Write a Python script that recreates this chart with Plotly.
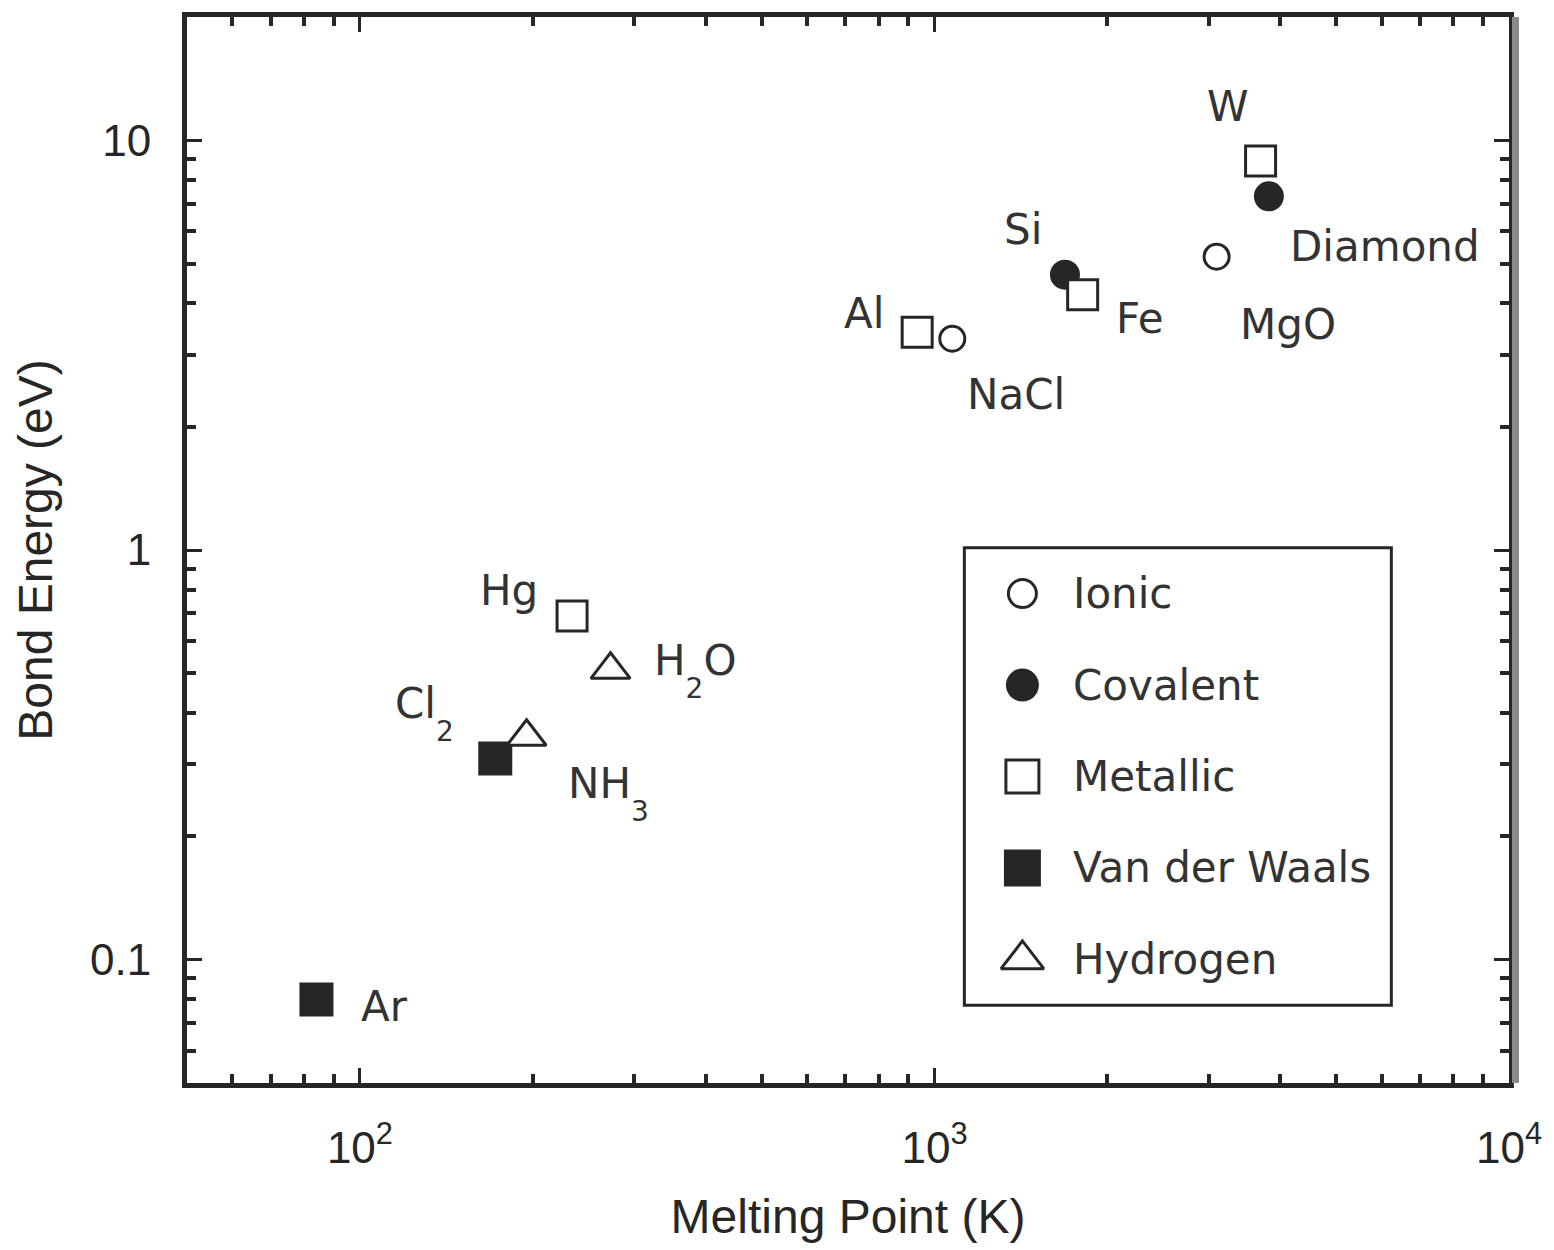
import numpy as np
import plotly.graph_objects as go

# ---- data -------------------------------------------------------------
materials = ["Ar", "Cl2", "NH3", "H2O", "Hg", "Al", "NaCl", "Si", "Fe", "MgO", "W", "Diamond"]
melting_point_K = [84, 172, 195, 273, 234, 933, 1074, 1687, 1811, 3098, 3695, 3820]
bond_energy_eV = [0.08, 0.31, 0.35, 0.51, 0.69, 3.4, 3.28, 4.7, 4.2, 5.2, 8.9, 7.3]
bond_type = ["Van der Waals", "Van der Waals", "Hydrogen", "Hydrogen", "Metallic", "Metallic",
             "Ionic", "Covalent", "Metallic", "Ionic", "Metallic", "Covalent"]

legend_order = ["Ionic", "Covalent", "Metallic", "Van der Waals", "Hydrogen"]

x_tick_values = [100, 1000, 10000]
x_tick_labels = ["10<sup>2</sup>", "10<sup>3</sup>", "10<sup>4</sup>"]
y_tick_values = [0.1, 1, 10]
y_tick_labels = ["0.1", "1", "10"]

# ---- styling ----------------------------------------------------------
INK = "#262626"
TEXT = "#333333"
AXIS_FONT = "Liberation Sans, Arial, sans-serif"
LABEL_FONT = "DejaVu Sans, Verdana, sans-serif"
LABEL_SIZE = 42

# marker look for each bond type: symbol, fill, size
type_style = {
    "Ionic": ("circle", "white", 25),
    "Covalent": ("circle", INK, 27),
    "Metallic": ("square", "white", 30),
    "Van der Waals": ("square", INK, 31),
    "Hydrogen": ("triangle-up", "white", 34),
}


def chem(label):
    """Render digits in a formula as dropped subscripts."""
    out = ""
    for ch in label:
        if ch.isdigit():
            out += ("<span style='font-size:28px;baseline-shift:-23px'>%s</span>" % ch)
        else:
            out += ch
    return out


# where each label sits relative to its point (pixels)
label_place = {
    "Ar": (68, -7, "center"),
    "Cl2": (-39, 45, "right"),
    "NH3": (39, -57, "left"),
    "H2O": (41, -1, "left"),
    "Hg": (-63, 26, "center"),
    "Al": (-53, 19, "center"),
    "NaCl": (64, -56, "center"),
    "Si": (-42, 45, "center"),
    "Fe": (57, -24, "center"),
    "MgO": (71, -68, "center"),
    "W": (-33, 55, "center"),
    "Diamond": (116, -50, "center"),
}

minor_x = [v * d for d in (10, 100, 1000) for v in range(2, 10) if v * d > 50]
minor_y = [round(v * d, 3) for d in (0.01, 0.1, 1) for v in range(2, 10) if v * d > 0.05]

fig = go.Figure()

symbols = [type_style[t][0] for t in bond_type]
fills = [type_style[t][1] for t in bond_type]
sizes = [type_style[t][2] for t in bond_type]

fig.add_trace(go.Scatter(
    x=melting_point_K, y=bond_energy_eV, mode="markers",
    marker=dict(symbol=symbols, color=fills, size=sizes, opacity=1,
                line=dict(color=INK, width=3)),
    text=materials, hoverinfo="text+x+y", showlegend=False,
))

for name, xv, yv in zip(materials, melting_point_K, bond_energy_eV):
    dx, dy, anchor = label_place[name]
    fig.add_annotation(
        x=np.log10(xv), y=np.log10(yv), text=chem(name), showarrow=False,
        xanchor=anchor, yanchor="middle", xshift=dx, yshift=dy,
        font=dict(family=LABEL_FONT, size=LABEL_SIZE, color=TEXT),
    )

# ---- key box, drawn on its own hidden axes -----------------------------
n_rows = len(legend_order)
row_y = [n_rows - i - 0.5 for i in range(n_rows)]
fig.add_trace(go.Scatter(
    x=[0.136] * n_rows, y=row_y, mode="markers", xaxis="x2", yaxis="y2",
    marker=dict(symbol=[type_style[t][0] for t in legend_order],
                color=[type_style[t][1] for t in legend_order],
                size=[type_style[t][2] + 3 for t in legend_order], opacity=1,
                line=dict(color=INK, width=3)),
    hoverinfo="skip", showlegend=False,
))
for t, yy in zip(legend_order, row_y):
    fig.add_annotation(
        x=0.25, y=yy, xref="x2", yref="y2", text=t, showarrow=False,
        xanchor="left", yanchor="middle",
        font=dict(family=LABEL_FONT, size=LABEL_SIZE, color=TEXT),
    )
fig.add_shape(type="rect", xref="x2 domain", yref="y2 domain", x0=0, x1=1, y0=0, y1=1,
              line=dict(color=INK, width=3), fillcolor="rgba(0,0,0,0)")

# soft grey edge along the right side of the frame
fig.add_shape(type="rect", xref="paper", yref="paper", xsizemode="pixel", xanchor=1,
              x0=3, x1=10, y0=0, y1=1, line=dict(width=0), fillcolor="#8a8a8a")

axis_common = dict(
    type="log", showgrid=False, zeroline=False,
    showline=True, linewidth=5, linecolor=INK, mirror="ticks",
    ticks="inside", ticklen=15, tickwidth=3, tickcolor=INK,
    tickfont=dict(family=AXIS_FONT, size=44, color=INK),
)

fig.update_layout(
    width=1554, height=1250,
    margin=dict(l=187, r=44, t=13, b=167),
    paper_bgcolor="white", plot_bgcolor="white",
    xaxis=dict(
        **axis_common,
        range=[np.log10(50), 4],
        tickmode="array", tickvals=x_tick_values, ticktext=x_tick_labels,
        minor=dict(tickmode="array", tickvals=minor_x, ticks="inside",
                   ticklen=9, tickwidth=4, tickcolor=INK),
        ticklabelstandoff=22,
        title=dict(text="Melting Point (K)", standoff=30,
                   font=dict(family=AXIS_FONT, size=48, color=INK)),
    ),
    yaxis=dict(
        **axis_common,
        range=[np.log10(0.05), np.log10(20)],
        tickmode="array", tickvals=y_tick_values, ticktext=y_tick_labels,
        minor=dict(tickmode="array", tickvals=minor_y, ticks="inside",
                   ticklen=9, tickwidth=4, tickcolor=INK),
        ticklabelstandoff=22,
        title=dict(text="Bond Energy (eV)", standoff=24,
                   font=dict(family=AXIS_FONT, size=48, color=INK)),
    ),
    xaxis2=dict(domain=[0.588, 0.911], anchor="y2", range=[0, 1], visible=False,
                fixedrange=True),
    yaxis2=dict(domain=[0.073, 0.502], anchor="x2", range=[0, n_rows], visible=False,
                fixedrange=True),
)

fig.write_html("out.html")
